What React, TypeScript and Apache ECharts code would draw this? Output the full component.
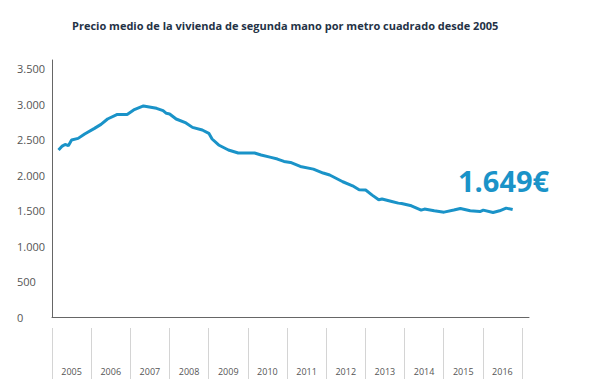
import React, { useEffect, useRef } from "react";
import * as echarts from "echarts";

const chartTitle = "Precio medio de la vivienda de segunda mano por metro cuadrado desde 2005";
const latestLabel = "1.649€";
const years = ["2005", "2006", "2007", "2008", "2009", "2010", "2011", "2012", "2013", "2014", "2015", "2016"];
const months = [
  "2005-03", "2005-04", "2005-05", "2005-06", "2005-07", "2005-09", "2005-11",
  "2006-02", "2006-04", "2006-06", "2006-09", "2006-12",
  "2007-02", "2007-05", "2007-09", "2007-11", "2007-12",
  "2008-01", "2008-03", "2008-06", "2008-08", "2008-11",
  "2009-01", "2009-02", "2009-04", "2009-07", "2009-10",
  "2010-03", "2010-05", "2010-08", "2010-10", "2010-12",
  "2011-02", "2011-05", "2011-09", "2011-12",
  "2012-02", "2012-06", "2012-09", "2012-11",
  "2013-01", "2013-03", "2013-05", "2013-06", "2013-09", "2013-11", "2013-12",
  "2014-03", "2014-06", "2014-07", "2014-10",
  "2015-01", "2015-04", "2015-06", "2015-09", "2015-12",
  "2016-01", "2016-04", "2016-06", "2016-08", "2016-10",
];
const prices = [
  2352, 2403, 2431, 2413, 2493, 2516, 2578,
  2657, 2713, 2789, 2854, 2854,
  2916, 2973, 2939, 2907, 2869,
  2860, 2789, 2733, 2671, 2634,
  2587, 2507, 2423, 2352, 2310,
  2310, 2282, 2248, 2225, 2191,
  2177, 2121, 2083, 2028,
  2000, 1905, 1848, 1792,
  1788, 1717, 1651, 1661, 1627, 1604, 1599,
  1566, 1506, 1520, 1496,
  1477, 1506, 1528, 1496, 1486,
  1506, 1472, 1496, 1534, 1514,
];
const yTicks = [0, 500, 1000, 1500, 2000, 2500, 3000, 3500];

const monthIndex = (s: string) => {
  const [y, m] = s.split("-").map(Number);
  return (y - 2005) * 12 + (m - 1);
};
const fmt = (v: number) => String(v).replace(/\B(?=(\d{3})+(?!\d))/g, ".");

export default function App() {
  const ref = useRef<HTMLDivElement>(null);
  useEffect(() => {
    document.body.style.margin = "0";
    const chart = echarts.init(ref.current!, null, { renderer: "svg" });
    const font = "'Open Sans', sans-serif";
    chart.setOption({
      animation: false,
      backgroundColor: "#ffffff",
      textStyle: { fontFamily: font },
      title: {
        text: chartTitle,
        left: 72,
        top: 20,
        padding: 0,
        textStyle: { fontSize: 11, fontWeight: "bold", color: "#243246", fontFamily: font },
      },
      grid: [
        { left: 52, right: 64, top: 60, bottom: 73 },
        { left: 52, right: 71, top: 328, height: 51 },
      ],
      xAxis: [
        {
          type: "value",
          gridIndex: 0,
          min: 0,
          max: 146,
          axisLine: { show: true, lineStyle: { color: "#666", width: 1 } },
          axisTick: { show: false },
          axisLabel: { show: false },
          splitLine: { show: false },
        },
        {
          type: "category",
          gridIndex: 1,
          data: years,
          boundaryGap: true,
          axisLine: { show: false },
          axisTick: { show: false },
          splitLine: { show: true, lineStyle: { color: "#d4d4d4", width: 1 } },
          axisLabel: { inside: true, margin: 3, fontSize: 9, color: "#555", fontFamily: font },
        },
      ],
      yAxis: [
        {
          type: "value",
          gridIndex: 0,
          min: 0,
          max: 3620,
          interval: 500,
          axisLine: { show: true, lineStyle: { color: "#666", width: 1 } },
          axisTick: { show: false },
          splitLine: { show: false },
          axisLabel: {
            showMaxLabel: false,
            align: "left",
            margin: 35,
            fontSize: 11,
            color: "#555",
            fontFamily: font,
            formatter: (v: number) => (yTicks.includes(v) ? fmt(v) : ""),
          },
        },
        { type: "value", gridIndex: 1, show: false },
      ],
      series: [
        {
          type: "line",
          xAxisIndex: 0,
          yAxisIndex: 0,
          data: months.map((m, i) => [monthIndex(m), prices[i]]),
          symbol: "none",
          smooth: false,
          lineStyle: { color: "#1a93c8", width: 3 },
        },
      ],
      graphic: [
        {
          type: "text",
          left: 458,
          top: 166,
          style: {
            text: latestLabel,
            fontSize: 29,
            fontWeight: 700,
            fontFamily: font,
            fill: "#1a93c8",
          },
        },
      ],
    });
    return () => chart.dispose();
  }, []);
  return <div ref={ref} style={{ width: 593, height: 390 }} />;
}
